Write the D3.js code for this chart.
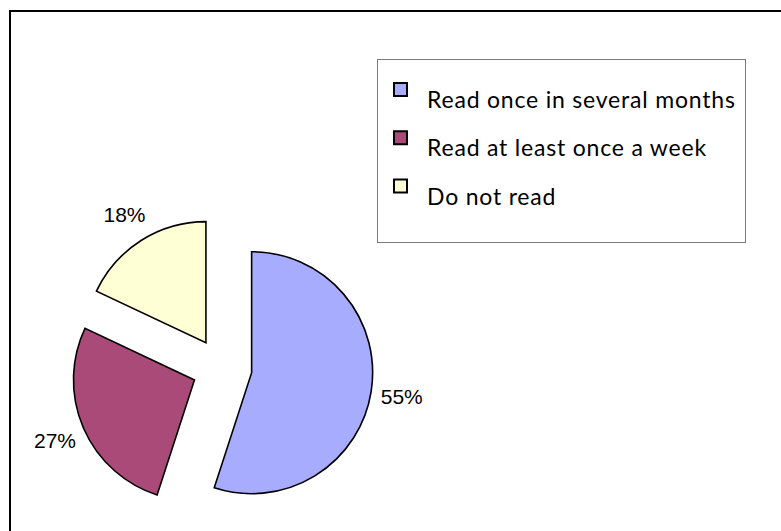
<!DOCTYPE html>
<html>
<head>
<meta charset="utf-8">
<script src="https://cdn.jsdelivr.net/npm/d3@7/dist/d3.min.js"></script>
<style>
  html, body { margin: 0; padding: 0; background: #fff; }
  svg { display: block; }
</style>
</head>
<body>
<svg id="chart" width="781" height="531"></svg>
<script>
const categories = ["Read once in several months", "Read at least once a week", "Do not read"];
const values = [55, 27, 18];
const valueLabels = ["55%", "27%", "18%"];
const colors = ["#A8ACFF", "#AA4A78", "#FFFFD6"];

const svg = d3.select("#chart");

// outer frame (right/bottom edges fall outside the picture)
svg.append("rect")
  .attr("x", 10).attr("y", 11)
  .attr("width", 820).attr("height", 560)
  .attr("fill", "#fff").attr("stroke", "#000").attr("stroke-width", 2);

const cx = 222, cy = 368, radius = 121, explode = 30, labelR = 152;

const pie = d3.pie().sort(null).value(d => d.value).startAngle(0).endAngle(2 * Math.PI);
const arcs = pie(categories.map((c, i) => ({ name: c, value: values[i], label: valueLabels[i], color: colors[i] })));
const arc = d3.arc().innerRadius(0).outerRadius(radius);

const g = svg.append("g").attr("transform", `translate(${cx},${cy})`);

const slice = g.selectAll("g.slice").data(arcs).join("g")
  .attr("class", "slice")
  .attr("transform", d => {
    const m = (d.startAngle + d.endAngle) / 2;
    return `translate(${explode * Math.sin(m)},${-explode * Math.cos(m)})`;
  });

slice.append("path")
  .attr("d", arc)
  .attr("fill", d => d.data.color)
  .attr("stroke", "#000")
  .attr("stroke-width", 1.6)
  .attr("stroke-linejoin", "miter");

slice.append("text")
  .attr("x", d => labelR * Math.sin((d.startAngle + d.endAngle) / 2))
  .attr("y", d => -labelR * Math.cos((d.startAngle + d.endAngle) / 2))
  .attr("dy", "0.36em")
  .attr("text-anchor", "middle")
  .attr("font-family", "Liberation Sans, Arial, sans-serif")
  .attr("font-size", 21)
  .attr("fill", "#000")
  .text(d => d.data.label);

// legend
const legend = svg.append("g");
legend.append("rect")
  .attr("x", 377.5).attr("y", 59.5)
  .attr("width", 368).attr("height", 183)
  .attr("fill", "#fff").attr("stroke", "#7a7a7a").attr("stroke-width", 1);

const legY = d3.scalePoint().domain(categories).range([108, 204.5]);

const item = legend.selectAll("g.item").data(categories).join("g").attr("class", "item");
item.append("rect")
  .attr("x", 394).attr("y", d => legY(d) - 25)
  .attr("width", 13).attr("height", 13)
  .attr("fill", (d, i) => colors[i])
  .attr("stroke", "#000").attr("stroke-width", 2);
item.append("text")
  .attr("x", 427).attr("y", d => legY(d))
  .attr("font-family", "Lato, Open Sans, sans-serif")
  .attr("font-size", 23)
  .attr("letter-spacing", 0.8)
  .attr("fill", "#000")
  .text(d => d);
</script>
</body>
</html>
